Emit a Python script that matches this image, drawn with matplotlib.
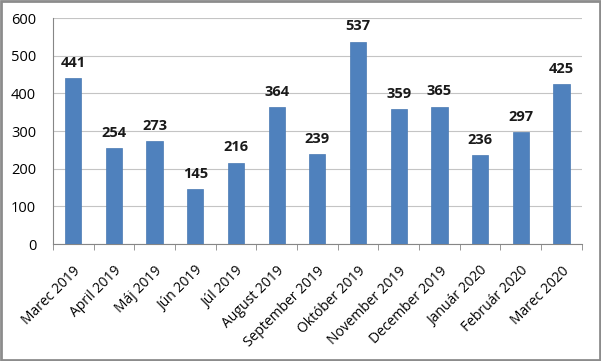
import matplotlib
matplotlib.use("Agg")
import matplotlib.pyplot as plt
from matplotlib.patches import Rectangle
import numpy as np

months = ["Marec 2019", "April 2019", "Máj 2019", "Jún 2019", "Júl 2019",
          "August 2019", "September 2019", "Október 2019", "November 2019",
          "December 2019", "Január 2020", "Február 2020", "Marec 2020"]
counts = [441, 254, 273, 145, 216, 364, 239, 537, 359, 365, 236, 297, 425]
yticks = [0, 100, 200, 300, 400, 500, 600]

plt.rcParams["font.family"] = ["Open Sans", "DejaVu Sans"]

fig = plt.figure(figsize=(6.01, 3.61), dpi=100)
ax = fig.add_axes([0.088, 0.324, 0.880, 0.626])

x = np.arange(len(months))
ax.bar(x, counts, width=0.4, color="#4F81BD", edgecolor="#4A7AB3", linewidth=0.5, zorder=3)
for xi, v in zip(x, counts):
    ax.text(xi, v + 22, str(v), ha="center", va="bottom", fontsize=10.5,
            fontweight="bold", color="#1a1a1a")

ax.set_xlim(-0.5, len(months) - 0.5)
ax.set_ylim(0, 600)
ax.set_yticks(yticks)
ax.tick_params(axis="y", length=0, labelsize=10.5, pad=12)
ax.yaxis.grid(True, color="#C4C4C4", linewidth=0.8, zorder=0)

ax.set_xticks(np.arange(len(months) + 1) - 0.5, minor=True)
ax.set_xticks(x)
ax.set_xticklabels(months, rotation=45, ha="right", rotation_mode="anchor", fontsize=10)
ax.tick_params(axis="x", which="major", length=0, pad=14)
ax.tick_params(axis="x", which="minor", length=4, color="#868686", direction="out")

for s in ["top", "right"]:
    ax.spines[s].set_visible(False)
ax.spines["left"].set_color("#868686")
ax.spines["bottom"].set_color("#868686")

fig.patches.append(Rectangle((0.002, 0.003), 0.996, 0.994, transform=fig.transFigure,
                             fill=False, edgecolor="#8C8C8C", linewidth=2))

fig.savefig("out.png", dpi=100)
